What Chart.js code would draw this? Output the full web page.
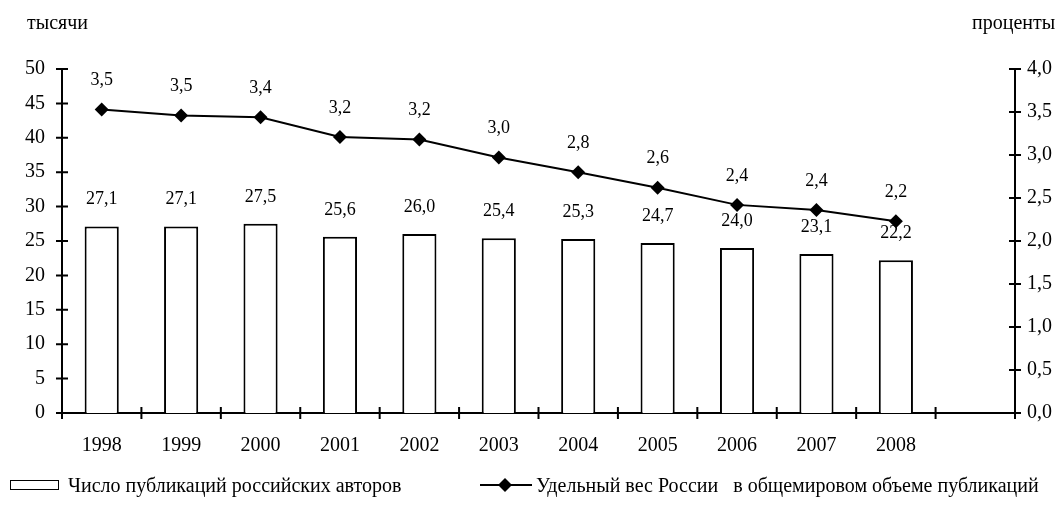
<!DOCTYPE html>
<html lang="ru">
<head>
<meta charset="UTF-8">
<title>Публикации российских авторов</title>
<script src="https://cdn.jsdelivr.net/npm/chart.js"></script>
<style>
  body { margin: 0; background: #fff; font-family: "Liberation Serif", "Times New Roman", serif; }
  #wrap { position: relative; width: 1063px; height: 508px; }
  #wrap canvas { position: absolute; left: 0; top: 0; }
  .cap { position: absolute; font-size: 20px; color: #000; line-height: 1; white-space: pre; }
  .box { position: absolute; width: 47px; height: 8px; border: 1.5px solid #000; background: #fff; }
</style>
</head>
<body>
<div id="wrap">
  <canvas id="chart" width="1063" height="508"></canvas>
  <div class="cap" style="left:27px; top:12px;">тысячи</div>
  <div class="cap" style="left:972px; top:12px;">проценты</div>

  <div class="box" style="left:10px; top:480px;"></div>
  <div class="cap" style="left:68px; top:475px;">Число публикаций российских авторов</div>
  <svg style="position:absolute; left:478px; top:474px;" width="56" height="22">
    <line x1="2" y1="11" x2="54" y2="11" stroke="#000" stroke-width="2"/>
    <polygon points="27,4 34,11 27,18 20,11" fill="#000"/>
  </svg>
  <div class="cap" style="left:536px; top:475px;">Удельный вес России   в общемировом объеме публикаций</div>
</div>

<script>
  const years = ['1998', '1999', '2000', '2001', '2002', '2003', '2004', '2005', '2006', '2007', '2008', ''];
  const publications = [27.1, 27.1, 27.5, 25.6, 26.0, 25.4, 25.3, 24.7, 24.0, 23.1, 22.2];
  const worldShare = [3.53, 3.46, 3.44, 3.21, 3.18, 2.97, 2.80, 2.62, 2.42, 2.36, 2.23];

  const font = { family: '"Liberation Serif", "Times New Roman", serif', size: 20 };
  const comma = v => Number(v).toFixed(1).replace('.', ',');

  // value labels above bars and points
  const valueLabels = {
    id: 'valueLabels',
    afterDatasetsDraw(chart) {
      const ctx = chart.ctx;
      ctx.save();
      ctx.fillStyle = '#000';
      ctx.font = '18px "Liberation Serif", serif';
      ctx.textAlign = 'center';
      ctx.textBaseline = 'middle';
      chart.data.datasets.forEach((ds, i) => {
        const meta = chart.getDatasetMeta(i);
        const gap = ds.type === 'line' ? 29 : 27;
        meta.data.forEach((el, j) => {
          ctx.fillText(comma(ds.data[j]), el.x, el.y - gap);
        });
      });
      ctx.restore();
    }
  };

  // tick marks that cross the axis lines
  const crossTicks = {
    id: 'crossTicks',
    afterDraw(chart) {
      const { ctx, scales } = chart;
      const { x, y, y1 } = scales;
      ctx.save();
      ctx.strokeStyle = '#000';
      ctx.lineWidth = 2;
      ctx.beginPath();
      y.ticks.forEach(t => {
        const py = y.getPixelForValue(t.value);
        ctx.moveTo(y.right - 6, py);
        ctx.lineTo(y.right + 6, py);
      });
      y1.ticks.forEach(t => {
        const py = y1.getPixelForValue(t.value);
        ctx.moveTo(y1.left - 6, py);
        ctx.lineTo(y1.left + 6, py);
      });
      for (let i = 0; i <= years.length; i++) {
        const px = x.getPixelForValue(i - 0.5);
        ctx.moveTo(px, x.top - 6);
        ctx.lineTo(px, x.top + 6);
      }
      ctx.stroke();
      ctx.restore();
    }
  };

  new Chart(document.getElementById('chart'), {
    data: {
      labels: years,
      datasets: [
        {
          type: 'line',
          label: 'Удельный вес России в общемировом объеме публикаций',
          data: worldShare,
          yAxisID: 'y1',
          borderColor: '#000',
          borderWidth: 2,
          backgroundColor: '#000',
          pointStyle: 'rectRot',
          pointRadius: 7,
          pointBorderWidth: 0,
          tension: 0,
          order: 0
        },
        {
          type: 'bar',
          label: 'Число публикаций российских авторов',
          data: publications,
          yAxisID: 'y',
          backgroundColor: '#fff',
          borderColor: '#000',
          borderWidth: 2,
          barPercentage: 0.43,
          categoryPercentage: 1,
          order: 1
        }
      ]
    },
    options: {
      responsive: false,
      animation: false,
      layout: { padding: { left: 0, right: 0, top: 69, bottom: 35 } },
      plugins: {
        legend: { display: false },
        tooltip: { enabled: false }
      },
      scales: {
        x: {
          offset: true,
          grid: { display: false, drawTicks: false },
          border: { color: '#000', width: 2 },
          ticks: { color: '#000', font: font, padding: 21, maxRotation: 0 },
          afterFit: s => { s.height = 60; }
        },
        y: {
          position: 'left',
          min: 0,
          max: 50,
          grid: { display: false, drawTicks: false },
          border: { color: '#000', width: 2 },
          ticks: { stepSize: 5, color: '#000', font: font, padding: 17 },
          afterFit: s => { s.width = 62; }
        },
        y1: {
          position: 'right',
          min: 0,
          max: 4,
          grid: { display: false, drawTicks: false },
          border: { color: '#000', width: 2 },
          ticks: { stepSize: 0.5, color: '#000', font: font, padding: 12, callback: v => comma(v) },
          afterFit: s => { s.width = 48; }
        }
      }
    },
    plugins: [valueLabels, crossTicks]
  });
</script>
</body>
</html>
